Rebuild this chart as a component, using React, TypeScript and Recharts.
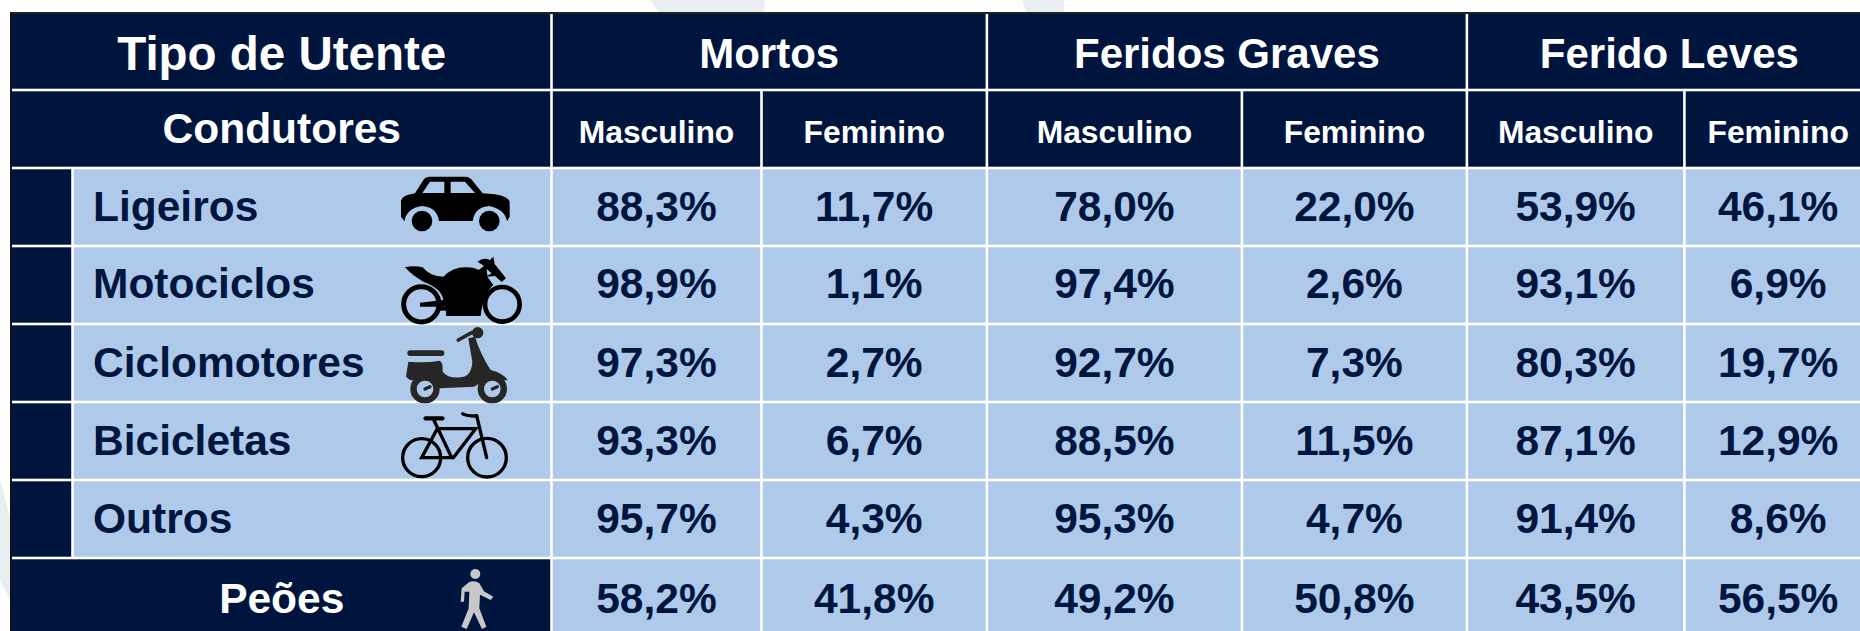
import React from 'react';
import { BarChart, Bar, XAxis, YAxis } from 'recharts';

const rowNames = ['Ligeiros', 'Motociclos', 'Ciclomotores', 'Bicicletas', 'Outros'];
const tipoHeader = 'Tipo de Utente';
const condutoresHeader = 'Condutores';
const peoesHeader = 'Peões';
const groupHeaders = ['Mortos', 'Feridos Graves', 'Ferido Leves'];
const subHeaders = ['Masculino', 'Feminino'];

// one list per column, last value is Peões
const mortosMasc = [88.3, 98.9, 97.3, 93.3, 95.7, 58.2];
const mortosFem = [11.7, 1.1, 2.7, 6.7, 4.3, 41.8];
const gravesMasc = [78.0, 97.4, 92.7, 88.5, 95.3, 49.2];
const gravesFem = [22.0, 2.6, 7.3, 11.5, 4.7, 50.8];
const levesMasc = [53.9, 93.1, 80.3, 87.1, 91.4, 43.5];
const levesFem = [46.1, 6.9, 19.7, 12.9, 8.6, 56.5];

const valueColumns = [mortosMasc, mortosFem, gravesMasc, gravesFem, levesMasc, levesFem];

const NAVY = '#00153e';
const LIGHT = '#afc9ea';
const TEXT_DARK = '#00163f';
const WATERMARK = '#e9eef3';

// column spans in px, the x axis runs 1:1 with the page
// the last column runs past the right edge of the picture
const STUB = 60.5;
const NAME = 479;
const COLS = [210, 225.4, 255, 225, 217.5, 187.5];
const CHART_WIDTH = 1880;
const FONT = '"Liberation Sans", Arial, sans-serif';

const fmt = (v: number) => v.toFixed(1).replace('.', ',') + '%';

const seriesKeys = ['wide', 'stub', 'name', 'g0', 'c0', 'c1', 'g1', 'c2', 'c3', 'g2', 'c4', 'c5'];

const emptyRow = () => Object.fromEntries(seriesKeys.map((k) => [k, 0]));

const buildTable = () => {
  const rows: any[] = [];
  rows.push({
    ...emptyRow(),
    row: tipoHeader,
    wide: STUB + NAME,
    g0: COLS[0] + COLS[1],
    g1: COLS[2] + COLS[3],
    g2: COLS[4] + COLS[5],
    labels: { wide: tipoHeader, g0: groupHeaders[0], g1: groupHeaders[1], g2: groupHeaders[2] },
    header: true,
    size: 47.5,
    shift: 3,
  });
  const sub: any = { ...emptyRow(), row: condutoresHeader, wide: STUB + NAME, labels: { wide: condutoresHeader }, header: true, size: 42.5, shift: 0 };
  COLS.forEach((w, i) => {
    sub[`c${i}`] = w;
    sub.labels[`c${i}`] = subHeaders[i % 2];
  });
  rows.push(sub);
  rowNames.forEach((name, r) => {
    const item: any = { ...emptyRow(), row: name, stub: STUB, name: NAME, labels: { name }, icon: name, size: 42.5, shift: r === 1 ? -1 : 0 };
    COLS.forEach((w, i) => {
      item[`c${i}`] = w;
      item.labels[`c${i}`] = fmt(valueColumns[i][r]);
    });
    rows.push(item);
  });
  const last: any = { ...emptyRow(), row: peoesHeader, wide: STUB + NAME, labels: { wide: peoesHeader }, icon: peoesHeader, size: 42.5, shift: 2 };
  COLS.forEach((w, i) => {
    last[`c${i}`] = w;
    last.labels[`c${i}`] = fmt(valueColumns[i][rowNames.length]);
  });
  rows.push(last);
  return rows;
};

const tableData = buildTable();

// icons are traced in 3x px, origin given per icon relative to the page
const CarIcon = () => (
  <g transform="translate(380 160) scale(0.3333)">
    <path
      d="M63 122 Q66 106 105 100 L130 60 Q137 50 150 50 L255 50 Q270 50 280 65 L308 100 L345 103 Q385 110 389 125 L389 170 L381 184 Q375 148 328 138 Q285 140 278 183 L177 183 Q170 140 125 138 Q80 145 73 184 L63 170 Z"
      fill="#000"
    />
    <path d="M127 99 L150 65 L193 65 L193 99 Z M212 65 L255 65 L285 99 L212 99 Z" fill={LIGHT} />
    <circle cx={126} cy={183} r={31} fill="#000" />
    <circle cx={328} cy={183} r={31} fill="#000" />
  </g>
);

const MotoIcon = () => (
  <g transform="translate(380 160) scale(0.3333)">
    <circle cx={124} cy={433} r={53} fill="none" stroke="#000" strokeWidth={15} />
    <circle cx={367} cy={433} r={52} fill="none" stroke="#000" strokeWidth={14} />
    <path
      d="M75 322 Q100 315 128 322 Q150 350 190 350 Q220 320 260 322 Q285 323 296 330 L312 318 L293 305 Q310 290 330 300 L340 290 L344 312 L378 355 L365 366 L345 348 L322 350 L340 375 Q310 400 302 468 L198 468 L198 440 L120 440 L120 428 L190 420 Q185 385 130 365 Q95 345 75 322 Z"
      fill="#000"
    />
    <path d="M320 327 L335 340 L322 347 Z" fill={LIGHT} />
    <rect x={178} y={440} width={20} height={12} fill="#000" />
  </g>
);

const ScooterIcon = () => (
  <g transform="translate(380 320) scale(0.3333)" fill="#262626">
    <rect x={82} y={91} width={111} height={17} rx={8} />
    <path d="M85 125 Q140 130 178 122 Q190 125 188 155 Q205 176 240 172 Q275 170 277 125 L265 55 L285 50 Q300 100 332 150 Q370 160 383 180 L300 190 L282 200 L180 205 Q130 180 90 180 L78 170 Z" />
    <path d="M235 60 L275 38" stroke="#262626" strokeWidth={11} strokeLinecap="round" fill="none" />
    <circle cx={293} cy={38} r={17} />
    <circle cx={135} cy={207} r={44} />
    <circle cx={337} cy={207} r={44} />
    <circle cx={135} cy={207} r={25} fill={LIGHT} />
    <circle cx={337} cy={207} r={25} fill={LIGHT} />
    <path d="M135 207 L150 200 M337 207 L352 200" stroke="#262626" strokeWidth={10} strokeLinecap="round" fill="none" />
  </g>
);

const BikeIcon = () => (
  <g transform="translate(380 320) scale(0.3333)" fill="none" stroke="#000" strokeWidth={10} strokeLinecap="round">
    <circle cx={125} cy={413} r={57} />
    <circle cx={321} cy={413} r={58} />
    <path d="M160 297 L215 413 L125 413 L172 326 L287 326 L220 413" />
    <path d="M290 287 L320 413" />
    <path d="M248 281 Q255 288 290 288" />
    <path d="M137 295 L187 295" strokeWidth={13} />
  </g>
);

const WalkerIcon = () => (
  <g transform="translate(420 550) scale(0.3333)" fill="#c8c8c8">
    <circle cx={166} cy={72} r={15} />
    <path d="M148 96 Q165 90 178 100 L192 124 L220 140 L212 150 L180 134 L178 175 L199 230 L186 237 L162 187 L140 237 L124 230 L146 175 L148 125 L134 125 L132 155 L122 155 L125 115 Z" />
  </g>
);

const icons: Record<string, React.FC> = {
  Ligeiros: CarIcon,
  Motociclos: MotoIcon,
  Ciclomotores: ScooterIcon,
  Bicicletas: BikeIcon,
  [peoesHeader]: WalkerIcon,
};

const GAP = 1.3;

const makeCell = (key: string) => (props: any) => {
  const { x, y, width, height, payload } = props;
  if (!width) return <g />;
  const isDark = payload.header || key === 'wide' || key === 'stub';
  const left = x <= 12.5 ? x : x + GAP;
  const right = x + width - GAP;
  const label = payload.labels[key];
  const isSub = payload.header && key.startsWith('c');
  const size = isSub ? 31.8 : payload.header && key.startsWith('g') ? 42 : key === 'wide' || payload.header ? payload.size : 42.5;
  const cx = x + width / 2;
  const cy = y + height / 2 + (isSub ? 4 : payload.shift);
  const Icon = icons[payload.icon];
  const showIcon = Icon && (key === 'name' || key === 'wide');
  return (
    <g>
      <rect x={left} y={y + GAP} width={right - left} height={height - GAP * 2} fill={isDark ? NAVY : LIGHT} />
      {label ? (
        <text
          x={key === 'name' ? 93 : cx}
          y={cy + size * 0.358 - 1}
          textAnchor={key === 'name' ? 'start' : 'middle'}
          fontFamily={FONT}
          fontWeight={700}
          fontSize={size}
          fill={isDark ? '#ffffff' : TEXT_DARK}
        >
          {label}
        </text>
      ) : null}
      {showIcon ? <Icon /> : null}
    </g>
  );
};

export default function App() {
  return (
    <div style={{ position: 'absolute', left: 0, top: 0, width: 1860, height: 631, overflow: 'hidden', background: '#fff' }}>
      <svg width={1860} height={631} style={{ position: 'absolute', left: 0, top: 0 }}>
        <polygon points="650,0 765,0 763,14 660,14" fill={WATERMARK} />
        <polygon points="1022,0 1064,0 1064,14 1027,14" fill={WATERMARK} />
        <polygon points="0,480 12,525 12,605 0,580" fill={WATERMARK} />
      </svg>
      <div style={{ position: 'absolute', left: 0, top: 0 }}>
        <BarChart
          width={CHART_WIDTH}
          height={636}
          layout="vertical"
          data={tableData}
          margin={{ top: 12, right: 0, bottom: 0, left: 12 }}
          barCategoryGap={0}
        >
          <XAxis type="number" hide domain={[0, CHART_WIDTH - 12]} />
          <YAxis type="category" dataKey="row" hide />
          {seriesKeys.map((key) => (
            <Bar key={key} dataKey={key} stackId="table" isAnimationActive={false} shape={makeCell(key)} />
          ))}
        </BarChart>
      </div>
      <div style={{ position: 'absolute', left: 10, top: 12, width: 1850, height: 2, background: '#222' }} />
      <div style={{ position: 'absolute', left: 10, top: 12, width: 2, height: 619, background: '#111' }} />
    </div>
  );
}
